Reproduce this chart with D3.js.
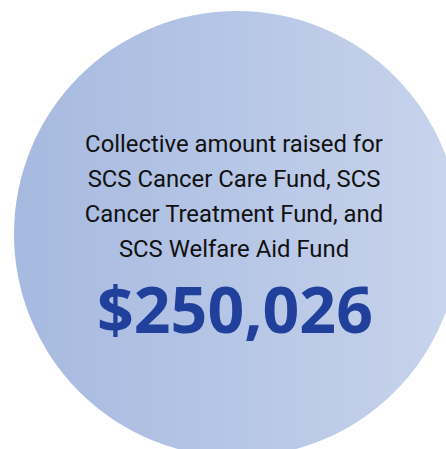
<!DOCTYPE html>
<html><head><meta charset="utf-8">
<script src="https://cdn.jsdelivr.net/npm/d3@7"></script>
<style>html,body{margin:0;padding:0;background:#fff;}svg{display:block;}</style>
</head><body>
<script>
const labelLines = ["Collective amount raised for","SCS Cancer Care Fund, SCS","Cancer Treatment Fund, and","SCS Welfare Aid Fund"];
const amounts = [250026];
const gradientStops = ["#a6b9df","#b6c6e6","#c9d4ec"];

const W = 446, H = 449;
const svg = d3.select("body").append("svg").attr("width", W).attr("height", H);
const defs = svg.append("defs");
const grad = defs.append("linearGradient").attr("id","g").attr("x1","0").attr("x2","1").attr("y1","0").attr("y2","0");
grad.selectAll("stop").data(gradientStops).join("stop")
  .attr("offset",(d,i)=>i/(gradientStops.length-1)).attr("stop-color",d=>d);

const cx = 237, cy = 234, r = 223;
svg.append("circle").attr("cx",cx).attr("cy",cy).attr("r",r).attr("fill","url(#g)");

const y = d3.scalePoint().domain(d3.range(labelLines.length)).range([152,257]);
const textX = 234;
const lines = svg.selectAll("text.l").data(labelLines).join("text")
  .attr("class","l")
  .attr("x", textX).attr("y",(d,i)=>y(i))
  .attr("text-anchor","middle")
  .attr("font-family","Roboto, 'Open Sans', sans-serif")
  .attr("font-size",22)
  .attr("fill","#111")
  .text(d=>d);
// fit first line to target width
const w0 = lines.node().getComputedTextLength();
const fs = 22 * 298 / w0;
lines.attr("font-size", fs);

const fmt = d3.format("$,");
const big = svg.selectAll("text.v").data(amounts).join("text")
  .attr("class","v")
  .attr("x", 235).attr("y", 333)
  .attr("text-anchor","middle")
  .attr("font-family","'Open Sans', Roboto, sans-serif")
  .attr("font-weight",700)
  .attr("font-size",66)
  .attr("fill","#20409b")
  .text(d=>fmt(d));
const bw = big.node().getComputedTextLength();
big.attr("font-size", 66 * 276 / bw);
</script>
</body></html>
